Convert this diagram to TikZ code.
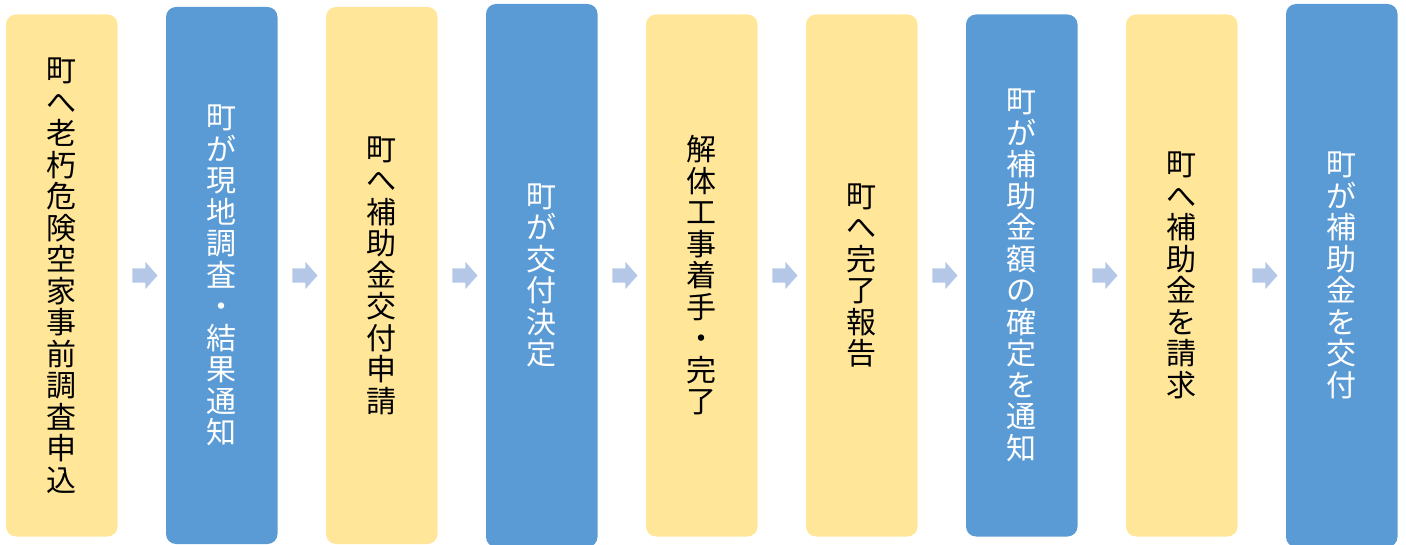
\documentclass[tikz,border=0pt]{standalone}
\usepackage{fontspec}
\newfontfamily\jp{Noto Sans CJK JP}
\usetikzlibrary{positioning, calc, shapes.arrows}
\definecolor{amarillo}{HTML}{FFE699}
\definecolor{azul}{HTML}{5B9BD5}
\definecolor{celeste}{HTML}{B4C7E7}
\tikzset{
    paso/.style = {rectangle, rounded corners=10pt, minimum width=111.5pt, inner sep=0pt, outer sep=0pt, align=center, font=\jp\fontsize{30pt}{31.5pt}\selectfont},
    pasoA/.style = {paso, fill=amarillo, text=black},
    pasoB/.style = {paso, fill=azul, text=white},
    flecha/.style = {single arrow, fill=celeste, minimum height=25pt, inner xsep=0pt, inner ysep=7pt, single arrow head extend=6.5pt, single arrow tip angle=97}
}

\begin{document}
\begin{tikzpicture}[node distance=48.5pt]
    \useasboundingbox (0,0) rectangle (1406pt,544pt);
    \clip (0,0) rectangle (1406pt,544pt);
    % Nodos
    \node [pasoA, minimum height=522pt] (p1) at (61.75pt,268.5pt) {町\\へ\\老\\朽\\危\\険\\空\\家\\事\\前\\調\\査\\申\\込};
    \node [pasoB, minimum height=537pt, right=of p1] (p2) {町\\が\\現\\地\\調\\査\\・\\結\\果\\通\\知};
    \node [pasoA, minimum height=537pt, right=of p2] (p3) {町\\へ\\補\\助\\金\\交\\付\\申\\請};
    \node [pasoB, minimum height=543pt, right=of p3] (p4) {町\\が\\交\\付\\決\\定};
    \node [pasoA, minimum height=522pt, right=of p4] (p5) {解\\体\\工\\事\\着\\手\\・\\完\\了};
    \node [pasoA, minimum height=522pt, right=of p5] (p6) {町\\へ\\完\\了\\報\\告};
    \node [pasoB, minimum height=522pt, right=of p6] (p7) {町\\が\\補\\助\\金\\額\\の\\確\\定\\を\\通\\知};
    \node [pasoA, minimum height=522pt, right=of p7] (p8) {町\\へ\\補\\助\\金\\を\\請\\求};
    \node [pasoB, minimum height=543pt, right=of p8] (p9) {町\\が\\補\\助\\金\\を\\交\\付};

    % Flechas
    \node [flecha] (f1) at ($(p1.east)!0.5!(p2.west)$) {};
    \node [flecha] (f2) at ($(p2.east)!0.5!(p3.west)$) {};
    \node [flecha] (f3) at ($(p3.east)!0.5!(p4.west)$) {};
    \node [flecha] (f4) at ($(p4.east)!0.5!(p5.west)$) {};
    \node [flecha] (f5) at ($(p5.east)!0.5!(p6.west)$) {};
    \node [flecha] (f6) at ($(p6.east)!0.5!(p7.west)$) {};
    \node [flecha] (f7) at ($(p7.east)!0.5!(p8.west)$) {};
    \node [flecha] (f8) at ($(p8.east)!0.5!(p9.west)$) {};
\end{tikzpicture}
\end{document}
